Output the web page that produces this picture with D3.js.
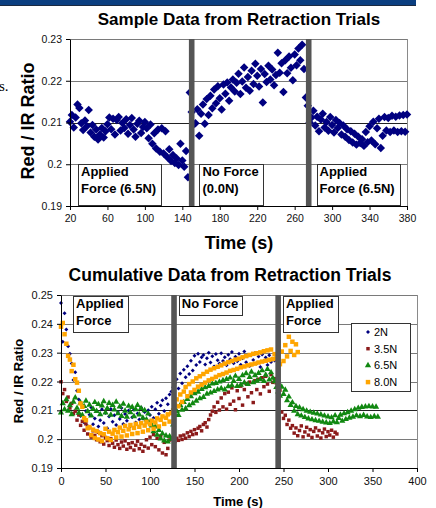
<!DOCTYPE html>
<meta charset="utf-8">
<style>
body {
  margin: 0;
  background: #fff;
  font-family: Arial, "Liberation Sans", Helvetica, sans-serif;
}
.tick text { fill: #111; }
.domain, .tick line { stroke: #000; }
.grid { stroke: #7a7a7a; shape-rendering: crispEdges; }
.grid.dark { stroke: #222; }
.frame { stroke: #8a8a8a; shape-rendering: crispEdges; }
.break { fill: #555; }
.note rect, .legend rect.bg { fill: #fff; stroke: #333; shape-rendering: crispEdges; }
.note text { font-weight: bold; font-size: 13px; }
.title { font-weight: bold; text-anchor: middle; }
</style>
<body>
<script src="https://cdn.jsdelivr.net/npm/d3@7"></script>
<script>

// ---- sample trial: one reading every 2 s from t = 20 s
var sampleStart = 20,
    sampleStep = 2;

var sampleRatio = [
  0.2102, 0.2118, 0.2088, 0.2112, 0.2143, 0.2135, 0.2098, 0.2082, 0.2105, 0.2091,
  0.2130, 0.2076, 0.2094, 0.2066, 0.2083, 0.2059, 0.2071, 0.2087, 0.2064, 0.2079,
  0.2096, 0.2112, 0.2084, 0.2109, 0.2071, 0.2106, 0.2113, 0.2081, 0.2099, 0.2087,
  0.2108, 0.2073, 0.2094, 0.2111, 0.2083, 0.2066, 0.2097, 0.2104, 0.2075, 0.2089,
  0.2101, 0.2086, 0.2062, 0.2095, 0.2049, 0.2074, 0.2038, 0.2083, 0.2030, 0.2086,
  0.2026, 0.2079, 0.2017, 0.2036, 0.2008, 0.2022, 0.2003, 0.2014, 0.1998, 0.2049,
  0.2009, 0.1994, 0.2032, 0.1969, 0.2172, 0.2125, 0.2095, 0.2098, 0.2132, 0.2068,
  0.2121, 0.2143, 0.2097, 0.2156, 0.2118, 0.2164, 0.2134, 0.2179, 0.2146, 0.2187,
  0.2158, 0.2131, 0.2191, 0.2169, 0.2196, 0.2152, 0.2184, 0.2203, 0.2174, 0.2195,
  0.2217, 0.2168, 0.2198, 0.2232, 0.2183, 0.2209, 0.2176, 0.2224, 0.2192, 0.2241,
  0.2212, 0.2186, 0.2228, 0.2148, 0.2216, 0.2197, 0.2236, 0.2203, 0.2227, 0.2189,
  0.2214, 0.2267, 0.2219, 0.2242, 0.2173, 0.2249, 0.2218, 0.2258, 0.2231, 0.2201,
  0.2263, 0.2237, 0.2277, 0.2249, 0.2286, 0.2228, 0.2160, 0.2140, 0.2100, 0.2112,
  0.2128, 0.2093, 0.2114, 0.2079, 0.2107, 0.2121, 0.2088, 0.2101, 0.2080, 0.2113,
  0.2094, 0.2076, 0.2106, 0.2087, 0.2099, 0.2071, 0.2093, 0.2066, 0.2084, 0.2058,
  0.2079, 0.2052, 0.2073, 0.2047, 0.2066, 0.2051, 0.2060, 0.2044, 0.2077, 0.2053,
  0.2091, 0.2057, 0.2102, 0.2048, 0.2086, 0.2109, 0.2039, 0.2068, 0.2113, 0.2081,
  0.2111, 0.2077, 0.2116, 0.2081, 0.2114, 0.2077, 0.2117, 0.2079, 0.2118, 0.2078,
  0.2119
];

var sampleBreaks = [150, 275];
var samplePhases = [["Applied", "Force (6.5N)"], ["No Force", "(0.0N)"], ["Applied", "Force (6.5N)"]];
var sampleTimeTicks = [20, 60, 100, 140, 180, 220, 260, 300, 340, 380];
var sampleRatioTicks = [0.19, 0.2, 0.21, 0.22, 0.23];

// ---- cumulative trials: one reading every 2 s from t = 0 s
var cumStep = 2;

var cum2N = [
  0.2472, 0.2338, 0.2437, 0.2380, 0.2322, 0.2296, 0.2262, 0.2205, 0.2232, 0.2168,
  0.2138, 0.2080, 0.2112, 0.2058, 0.2098, 0.2046, 0.2085, 0.2110, 0.2052, 0.2072,
  0.2098, 0.2044, 0.2066, 0.2104, 0.2056, 0.2091, 0.2038, 0.2079, 0.2105, 0.2060,
  0.2083, 0.2049, 0.2094, 0.2070, 0.2108, 0.2053, 0.2087, 0.2064, 0.2099, 0.2045,
  0.2076, 0.2102, 0.2058, 0.2089, 0.2068, 0.2110, 0.2072, 0.2094, 0.2061, 0.2100,
  0.2084, 0.2112, 0.2073, 0.2104, 0.2126, 0.2088, 0.2117, 0.2135, 0.2098, 0.2142,
  0.2121, 0.2155, 0.2165, 0.2180, 0.2195, 0.2208, 0.2176, 0.2228, 0.2194, 0.2241,
  0.2215, 0.2253, 0.2226, 0.2272, 0.2238, 0.2289, 0.2257, 0.2296, 0.2268, 0.2284,
  0.2292, 0.2259, 0.2281, 0.2300, 0.2266, 0.2288, 0.2252, 0.2295, 0.2274, 0.2262,
  0.2298, 0.2271, 0.2284, 0.2256, 0.2293, 0.2277, 0.2302, 0.2263, 0.2286, 0.2270,
  0.2296, 0.2258, 0.2281, 0.2304, 0.2267, 0.2289, 0.2254, 0.2292, 0.2275, 0.2299,
  0.2263, 0.2287, 0.2250, 0.2294, 0.2271, 0.2283, 0.2257, 0.2291, 0.2268, 0.2279,
  0.2273
];

var cum35N = [
  0.2199, 0.2158, 0.2172, 0.2131, 0.2146, 0.2108, 0.2124, 0.2089, 0.2097, 0.2066,
  0.2084, 0.2048, 0.2062, 0.2031, 0.2053, 0.2018, 0.2040, 0.2007, 0.2029, 0.2013,
  0.1998, 0.2024, 0.1991, 0.2012, 0.1983, 0.2006, 0.1995, 0.1978, 0.2002, 0.1986,
  0.1972, 0.1997, 0.1981, 0.1968, 0.1990, 0.1976, 0.1994, 0.1965, 0.1984, 0.1971,
  0.1988, 0.1962, 0.1979, 0.1993, 0.1967, 0.1982, 0.1958, 0.1975, 0.1998, 0.1969,
  0.2007, 0.1981, 0.2016, 0.1974, 0.2003, 0.1963, 0.2011, 0.1952, 0.1989, 0.1946,
  0.1968, 0.1997, 0.2000, 0.2004, 0.1992, 0.2003, 0.1996, 0.2011, 0.1999, 0.2014,
  0.2003, 0.2022, 0.2009, 0.2027, 0.2016, 0.2033, 0.2019, 0.2038, 0.2044, 0.2029,
  0.2051, 0.2057, 0.2042, 0.2068, 0.2084, 0.2097, 0.2112, 0.2093, 0.2128, 0.2101,
  0.2143, 0.2112, 0.2158, 0.2104, 0.2163, 0.2121, 0.2178, 0.2132, 0.2102, 0.2168,
  0.2141, 0.2184, 0.2118, 0.2172, 0.2193, 0.2147, 0.2198, 0.2161, 0.2127, 0.2203,
  0.2172, 0.2208, 0.2157, 0.2213, 0.2182, 0.2218, 0.2191, 0.2166, 0.2224, 0.2197,
  0.2210, 0.2195, 0.2205, 0.2170, 0.2094, 0.2072, 0.2083, 0.2051, 0.2066, 0.2038,
  0.2047, 0.2021, 0.2039, 0.2012, 0.2030, 0.2046, 0.2008, 0.2025, 0.2041, 0.2014,
  0.2033, 0.2006, 0.2027, 0.2039, 0.2011, 0.2030, 0.2004, 0.2022, 0.2035, 0.2009,
  0.2026, 0.2014, 0.2031, 0.2007, 0.2024, 0.2018
];

var cum65N = [
  0.2092, 0.2124, 0.2103, 0.2138, 0.2098, 0.2117, 0.2086, 0.2129, 0.2144, 0.2108,
  0.2091, 0.2126, 0.2083, 0.2114, 0.2133, 0.2096, 0.2119, 0.2081, 0.2105, 0.2128,
  0.2097, 0.2121, 0.2086, 0.2116, 0.2131, 0.2092, 0.2107, 0.2125, 0.2084, 0.2118,
  0.2102, 0.2129, 0.2089, 0.2113, 0.2080, 0.2122, 0.2098, 0.2077, 0.2115, 0.2093,
  0.2111, 0.2079, 0.2103, 0.2118, 0.2085, 0.2107, 0.2074, 0.2100, 0.2068, 0.2088,
  0.2058, 0.2047, 0.2027, 0.2043, 0.2015, 0.2031, 0.2002, 0.2019, 0.1995, 0.2012,
  0.1991, 0.2010, 0.2000, 0.2050, 0.2085, 0.2097, 0.2083, 0.2118, 0.2101, 0.2128,
  0.2106, 0.2139, 0.2117, 0.2148, 0.2124, 0.2159, 0.2133, 0.2164, 0.2141, 0.2173,
  0.2146, 0.2179, 0.2157, 0.2184, 0.2161, 0.2192, 0.2166, 0.2194, 0.2172, 0.2199,
  0.2176, 0.2204, 0.2172, 0.2208, 0.2183, 0.2213, 0.2186, 0.2201, 0.2219, 0.2184,
  0.2208, 0.2188, 0.2221, 0.2196, 0.2228, 0.2191, 0.2215, 0.2233, 0.2197, 0.2221,
  0.2202, 0.2229, 0.2207, 0.2238, 0.2201, 0.2223, 0.2243, 0.2206, 0.2231, 0.2212,
  0.2200, 0.2180, 0.2165, 0.2150, 0.2181, 0.2156, 0.2171, 0.2134, 0.2147, 0.2118,
  0.2127, 0.2098, 0.2114, 0.2086, 0.2109, 0.2081, 0.2103, 0.2076, 0.2098, 0.2071,
  0.2094, 0.2068, 0.2091, 0.2065, 0.2088, 0.2063, 0.2085, 0.2060, 0.2081, 0.2057,
  0.2078, 0.2055, 0.2075, 0.2061, 0.2082, 0.2058, 0.2073, 0.2084, 0.2063, 0.2089,
  0.2069, 0.2093, 0.2074, 0.2098, 0.2077, 0.2103, 0.2082, 0.2108, 0.2079, 0.2111,
  0.2083, 0.2113, 0.2078, 0.2114, 0.2076, 0.2113, 0.2079, 0.2112, 0.2077
];

var cum80N = [
  0.2390, 0.2403, 0.2364, 0.2331, 0.2289, 0.2276, 0.2236, 0.2258, 0.2208, 0.2196,
  0.2168, 0.2124, 0.2112, 0.2073, 0.2066, 0.2038, 0.2042, 0.2014, 0.2033, 0.2004,
  0.2028, 0.1999, 0.2021, 0.1994, 0.2017, 0.2036, 0.2003, 0.2026, 0.1997, 0.2019,
  0.2032, 0.2006, 0.2024, 0.2040, 0.2009, 0.2029, 0.2046, 0.2013, 0.2034, 0.2049,
  0.2018, 0.2039, 0.2053, 0.2021, 0.2043, 0.2056, 0.2026, 0.2047, 0.2060, 0.2031,
  0.2052, 0.2064, 0.2036, 0.2058, 0.2072, 0.2044, 0.2067, 0.2079, 0.2053, 0.2074,
  0.2086, 0.2061, 0.2090, 0.2100, 0.2120, 0.2138, 0.2114, 0.2155, 0.2129, 0.2165,
  0.2181, 0.2149, 0.2191, 0.2162, 0.2200, 0.2171, 0.2211, 0.2182, 0.2218, 0.2189,
  0.2226, 0.2196, 0.2234, 0.2204, 0.2241, 0.2209, 0.2246, 0.2216, 0.2251, 0.2222,
  0.2256, 0.2226, 0.2262, 0.2231, 0.2267, 0.2237, 0.2271, 0.2240, 0.2276, 0.2244,
  0.2279, 0.2249, 0.2284, 0.2252, 0.2288, 0.2256, 0.2292, 0.2259, 0.2296, 0.2262,
  0.2298, 0.2266, 0.2301, 0.2269, 0.2305, 0.2272, 0.2308, 0.2275, 0.2311, 0.2278,
  0.2295, 0.2280, 0.2285, 0.2260, 0.2304, 0.2271, 0.2326, 0.2287, 0.2355, 0.2306,
  0.2338, 0.2292, 0.2329, 0.2302
];

var cumNames = ["2N", "3.5N", "6.5N", "8.0N"];
var cumColors = ["#000080", "#8b1a1a", "#118811", "#ffa500"];
var cumBreaks = [127, 244];
var cumPhases = [["Applied", "Force"], ["No Force"], ["Applied", "Force"]];
var cumTimeTicks = [0, 50, 100, 150, 200, 250, 300, 350, 400];
var cumRatioTicks = [0.19, 0.2, 0.21, 0.22, 0.23, 0.24, 0.25];

var width = 436,
    height = 508;

var svg = d3.select("body").append("svg")
    .attr("width", width)
    .attr("height", height);

var fmt = function(d) { return String(+d.toFixed(2)); };

// slide header band and stray slide text
svg.append("rect").attr("x", 0).attr("y", 0).attr("width", 416).attr("height", 5).attr("fill", "#0b3f80");
svg.append("rect").attr("x", 0).attr("y", 5).attr("width", 416).attr("height", 1).attr("fill", "#1c2a40");
svg.append("text")
    .attr("x", -1).attr("y", 91)
    .style("font-family", "'Liberation Serif', 'Times New Roman', serif")
    .style("font-size", "15px")
    .text("s.");

function toPoints(values, t0, step) {
  return values.map(function(v, i) { return { t: t0 + i * step, v: v }; });
}

function drawFrame(g, x, y, yTicks, darkValue) {
  var x0 = x.range()[0], x1 = x.range()[1],
      y0 = y.range()[0], y1 = y.range()[1];

  g.selectAll(".grid")
      .data(yTicks.filter(function(d) { return d > y.domain()[0]; }))
    .enter().append("line")
      .attr("class", function(d) { return Math.abs(d - darkValue) < 1e-9 ? "grid dark" : "grid"; })
      .attr("x1", x0).attr("x2", x1)
      .attr("y1", function(d) { return Math.round(y(d)) + 0.5; })
      .attr("y2", function(d) { return Math.round(y(d)) + 0.5; });

  g.append("line")
      .attr("class", "frame")
      .attr("x1", Math.round(x1) + 0.5).attr("x2", Math.round(x1) + 0.5)
      .attr("y1", y1).attr("y2", y0);
}

function drawAxes(g, x, y, xTicks, yTicks, fontSize) {
  var xa = g.append("g")
      .attr("transform", "translate(0," + Math.round(y.range()[0]) + ")")
      .call(d3.axisBottom(x).tickValues(xTicks).tickSize(4).tickSizeOuter(0).tickPadding(5));
  var ya = g.append("g")
      .attr("transform", "translate(" + Math.round(x.range()[0]) + ",0)")
      .call(d3.axisLeft(y).tickValues(yTicks).tickFormat(fmt).tickSize(4).tickSizeOuter(0).tickPadding(4));
  [xa, ya].forEach(function(a) {
    a.selectAll(".tick text")
        .style("font-family", "Arial, 'Liberation Sans', sans-serif")
        .style("font-size", fontSize + "px");
  });
}

function drawBreaks(g, x, y, breaks) {
  g.selectAll(".break")
      .data(breaks)
    .enter().append("rect")
      .attr("class", "break")
      .attr("x", function(d) { return x(d) - 2.8; })
      .attr("width", 5.6)
      .attr("y", y.range()[1])
      .attr("height", y.range()[0] - y.range()[1]);
}

function drawNotes(g, phases, lefts, boxTop, lineGap, padL, padR, padB) {
  phases.forEach(function(lines, i) {
    var box = g.append("g").attr("class", "note");
    var rect = box.append("rect");
    var widest = 0;
    lines.forEach(function(s, j) {
      var t = box.append("text")
          .attr("x", lefts[i] + padL)
          .attr("y", boxTop + 12 + j * lineGap)
          .text(s);
      widest = Math.max(widest, t.node().getComputedTextLength());
    });
    rect.attr("x", Math.round(lefts[i]) + 0.5)
        .attr("y", Math.round(boxTop) + 0.5)
        .attr("width", Math.round(widest + padL + padR))
        .attr("height", Math.round(12 + (lines.length - 1) * lineGap + padB));
  });
}

// ---------- upper chart: sample data
var sx = d3.scaleLinear().domain([20, 380]).range([70, 407]);
var sy = d3.scaleLinear().domain([0.19, 0.23]).range([206, 39]);

var upper = svg.append("g");

upper.append("text")
    .attr("class", "title")
    .attr("x", 239).attr("y", 25)
    .style("font-size", "17px")
    .text("Sample Data from Retraction Trials");

drawFrame(upper, sx, sy, sampleRatioTicks, 0.21);

var diamond = d3.symbol().type(d3.symbolSquare).size(36);
upper.append("g").selectAll("path")
    .data(toPoints(sampleRatio, sampleStart, sampleStep))
  .enter().append("path")
    .attr("d", diamond)
    .attr("fill", "#000080")
    .attr("transform", function(d) { return "translate(" + sx(d.t) + "," + sy(d.v) + ") rotate(45)"; });

drawBreaks(upper, sx, sy, sampleBreaks);
drawAxes(upper, sx, sy, sampleTimeTicks, sampleRatioTicks, 10.5);

var sampleLefts = [sx(20) + 8].concat(sampleBreaks.map(function(b) { return sx(b) + 2.8 + 5; }));
drawNotes(upper, samplePhases, sampleLefts, sy(0.2), 17, 3, 5, 12);

upper.append("text")
    .attr("class", "title")
    .attr("transform", "translate(34,121) rotate(-90)")
    .style("font-size", "18px")
    .text("Red / IR Ratio");

upper.append("text")
    .attr("class", "title")
    .attr("x", 239).attr("y", 249)
    .style("font-size", "18px")
    .text("Time (s)");

// ---------- lower chart: cumulative data
var cx = d3.scaleLinear().domain([0, 400]).range([61, 417]);
var cy = d3.scaleLinear().domain([0.19, 0.25]).range([468, 295]);

var lower = svg.append("g");

lower.append("text")
    .attr("class", "title")
    .attr("x", 230).attr("y", 281)
    .style("font-size", "17.5px")
    .text("Cumulative Data from Retraction Trials");

drawFrame(lower, cx, cy, cumRatioTicks, 0.21);

var cumSymbols = [
  { type: d3.symbolSquare, size: 8, rotate: 45 },
  { type: d3.symbolSquare, size: 12, rotate: 0 },
  { type: d3.symbolTriangle, size: 17, rotate: 0 },
  { type: d3.symbolSquare, size: 20, rotate: 0 }
];

[cum2N, cum35N, cum65N, cum80N].forEach(function(series, k) {
  var sym = d3.symbol().type(cumSymbols[k].type).size(cumSymbols[k].size);
  lower.append("g").selectAll("path")
      .data(toPoints(series, 0, cumStep))
    .enter().append("path")
      .attr("d", sym)
      .attr("fill", cumColors[k])
      .attr("transform", function(d) {
        return "translate(" + cx(d.t) + "," + cy(d.v) + ") rotate(" + cumSymbols[k].rotate + ")";
      });
});

drawBreaks(lower, cx, cy, cumBreaks);
drawAxes(lower, cx, cy, cumTimeTicks, cumRatioTicks, 11);

var cumLefts = [cx(0) + 12].concat(cumBreaks.map(function(b) { return cx(b) + 2.8 + 2; }));
drawNotes(lower, cumPhases, cumLefts, cy(0.25) + 1, 17, 3, 4, 7);

// legend
var legend = lower.append("g").attr("class", "legend");
legend.append("rect").attr("class", "bg")
    .attr("x", 351.5).attr("y", 323.5).attr("width", 59).attr("height", 68);
cumNames.forEach(function(name, k) {
  var ly = 332 + k * 16.7;
  var sym = d3.symbol().type(cumSymbols[k].type).size(cumSymbols[k].size);
  legend.append("path")
      .attr("d", sym)
      .attr("fill", cumColors[k])
      .attr("transform", "translate(368," + ly + ") rotate(" + cumSymbols[k].rotate + ")");
  legend.append("text")
      .attr("x", 374).attr("y", ly + 4)
      .style("font-size", "11px")
      .text(name);
});

lower.append("text")
    .attr("class", "title")
    .attr("transform", "translate(23,381) rotate(-90)")
    .style("font-size", "13px")
    .text("Red / IR Ratio");

lower.append("text")
    .attr("class", "title")
    .attr("x", 238).attr("y", 506)
    .style("font-size", "13px")
    .text("Time (s)");

</script>
